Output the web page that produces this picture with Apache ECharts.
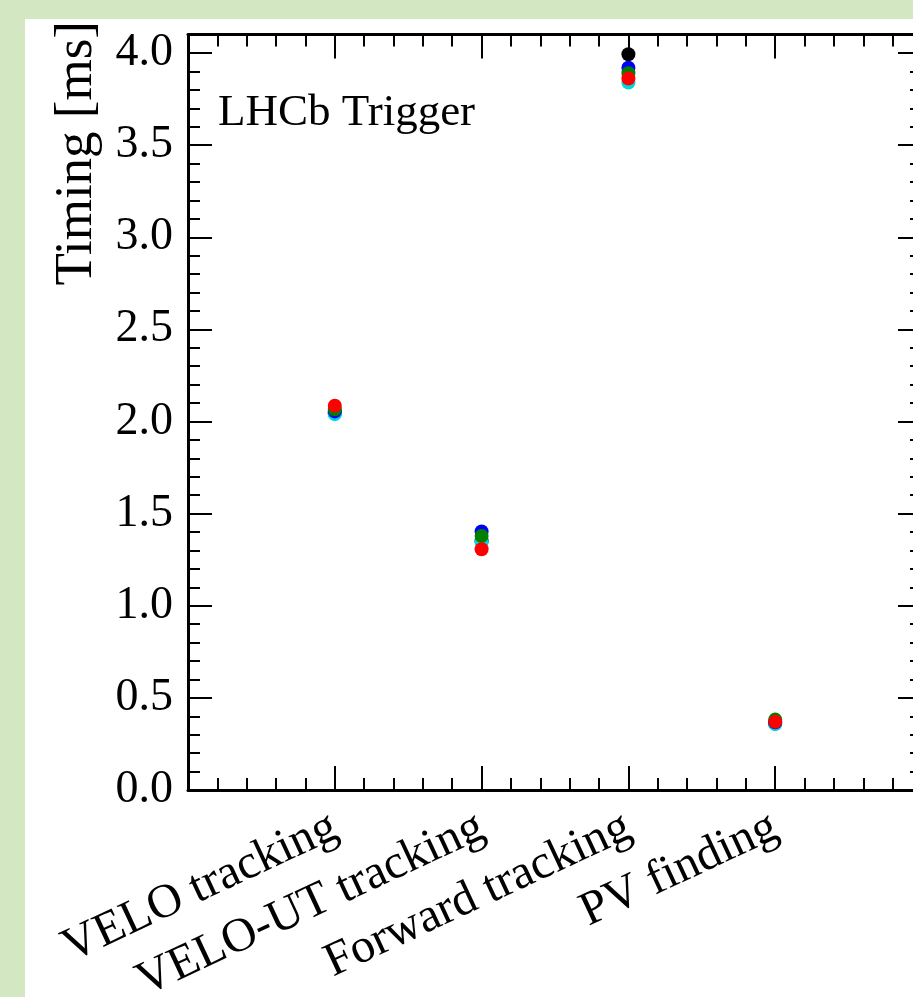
<!DOCTYPE html>
<html>
<head>
<meta charset="utf-8">
<script src="https://cdn.jsdelivr.net/npm/echarts@6/dist/echarts.min.js"></script>
<style>
html,body{margin:0;padding:0;background:#d3e7c3;}
#c{width:913px;height:997px;}
</style>
</head>
<body>
<div id="c"></div>
<script>
const categories = ['VELO tracking', 'VELO-UT tracking', 'Forward tracking', 'PV finding'];
const blackVals = [2.045, 1.350, 3.993, 0.360];
const cyanVals  = [2.040, 1.345, 3.840, 0.358];
const blueVals  = [2.055, 1.403, 3.920, 0.368];
const greenVals = [2.066, 1.379, 3.890, 0.382];
const redVals   = [2.086, 1.307, 3.862, 0.370];
const yTicks = [0, 0.5, 1.0, 1.5, 2.0, 2.5, 3.0, 3.5, 4.0];

const FONT = 'Liberation Serif';
function pts(vals){ return vals.map((v,i)=>[i+1, v]); }

const chart = echarts.init(document.getElementById('c'), null, {renderer:'canvas'});
const lineStyle = {color:'#000', width:3};
const tickMajor = {show:true, inside:true, length:24, lineStyle:{color:'#000', width:2}};
const tickMinor = {show:true, inside:true, length:12, lineStyle:{color:'#000', width:2}};

function xAx(pos, major, labels){
  return {
    type:'value', position:pos, min:0, max:5, interval: major ? 1 : 0.2,
    axisLine:{show:major, onZero:false, lineStyle},
    axisTick: major ? tickMajor : tickMinor,
    splitLine:{show:false},
    axisLabel: labels ? {
      show:true, rotate:25, margin:35, fontFamily:FONT, fontSize:48, color:'#000',
      formatter:(v)=>{ const i=Math.round(v)-1; return (i>=0 && i<categories.length && Math.abs(v-Math.round(v))<1e-6) ? categories[i] : ''; }
    } : {show:false}
  };
}
function yAx(pos, major, labels){
  return {
    type:'value', position:pos, min:0, max:4.1, interval: major ? 0.5 : 0.1,
    axisLine:{show:major, onZero:false, lineStyle},
    axisTick: major ? tickMajor : tickMinor,
    splitLine:{show:false},
    axisLabel: labels ? {
      show:true, margin:15, fontFamily:FONT, fontSize:46, color:'#000',
      formatter:(v)=>{ const m = yTicks.find(t=>Math.abs(t-v)<1e-6); return m===undefined ? '' : m.toFixed(1); }
    } : {show:false}
  };
}

const colors = ['#000000', '#00d8d8', '#0000ff', '#008000', '#ff0000'];
const allVals = [blackVals, cyanVals, blueVals, greenVals, redVals];

chart.setOption({
  backgroundColor:'#d3e7c3',
  animation:false,
  grid:{left:188, top:34.6, width:734, height:755.4, outerBoundsMode:'none', containLabel:false},
  graphic:[
    {type:'rect', z:-100, silent:true, shape:{x:25, y:19, width:900, height:990}, style:{fill:'#ffffff'}},
    {type:'text', z:10, x:77, y:21, rotation:Math.PI/2, style:{text:'Timing [ms]', font:'53px "Liberation Serif"', fill:'#000', align:'right', verticalAlign:'middle'}},
    {type:'text', z:10, x:218, y:113, style:{text:'LHCb Trigger', font:'45px "Liberation Serif"', fill:'#000', align:'left', verticalAlign:'middle'}}
  ],
  xAxis:[xAx('bottom', true, true), xAx('bottom', false, false), xAx('top', true, false), xAx('top', false, false)],
  yAxis:[yAx('left', true, true), yAx('left', false, false), yAx('right', true, false), yAx('right', false, false)],
  series: allVals.map((vals, k)=>({
    type:'scatter', xAxisIndex:0, yAxisIndex:0, symbol:'circle', symbolSize:14,
    itemStyle:{color:colors[k], opacity:1}, emphasis:{disabled:true}, silent:true,
    data: pts(vals), z: 2+k
  }))
});
</script>
</body>
</html>
